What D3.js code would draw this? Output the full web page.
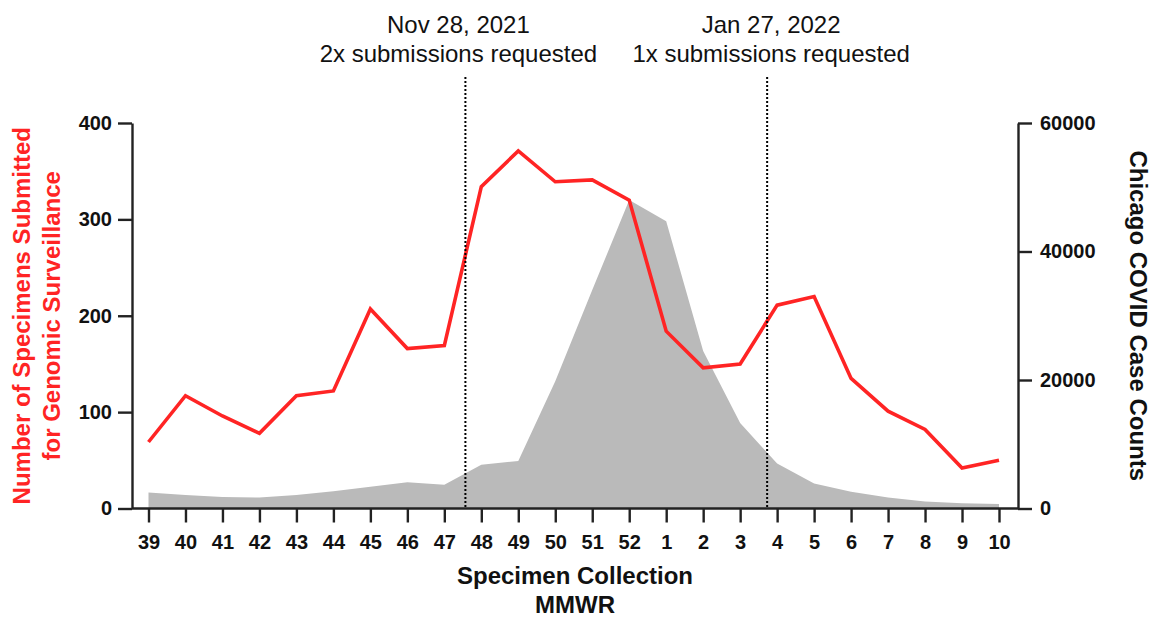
<!DOCTYPE html>
<html>
<head>
<meta charset="utf-8">
<script src="https://cdn.jsdelivr.net/npm/d3@7"></script>
<style>
  body { margin: 0; background: #fff; }
  svg { display: block; font-family: "Liberation Sans", Arial, Helvetica, sans-serif; }
</style>
</head>
<body>
<svg id="chart" width="1153" height="618"></svg>
<script>
// MMWR weeks, Sep 2021 -> Mar 2022
var weeks = ["39","40","41","42","43","44","45","46","47","48","49","50","51","52",
             "1","2","3","4","5","6","7","8","9","10"];
// specimens submitted (left axis)
var specimens = [69,117,96,78,117,122,207,166,169,334,371,339,341,320,
                 184,146,150,211,220,135,101,82,42,50];
// Chicago case counts (right axis)
var cases = [2500,2100,1800,1700,2100,2700,3400,4100,3700,6800,7400,19800,34000,48000,
             44700,24500,13300,7000,3900,2600,1700,1100,800,700];
var leftTicks = [0,100,200,300,400];
var rightTicks = [0,20000,40000,60000];
// policy changes, position in week index units
var markers = [
	{ at: 8.57, lines: ["Nov 28, 2021", "2x submissions requested"] },
	{ at: 16.73, lines: ["Jan 27, 2022", "1x submissions requested"] }
];

var svg = d3.select("#chart");
var plot = { left: 132, right: 1018, top: 123, bottom: 508.5 };

var x = d3.scalePoint().domain(weeks).range([148.5, 999]);
var xi = d3.scaleLinear().domain([0, weeks.length - 1]).range([148.5, 999]);
var yL = d3.scaleLinear().domain([0, 400]).range([plot.bottom, plot.top]);
var yR = d3.scaleLinear().domain([0, 60000]).range([plot.bottom, plot.top]);

// gray area of cases
var area = d3.area()
	.x(function(d, i){ return x(weeks[i]); })
	.y0(yR(0))
	.y1(function(d){ return yR(d); });
svg.append("path").datum(cases)
	.attr("d", area)
	.attr("fill", "#bababa");

// red specimens line
var line = d3.line()
	.x(function(d, i){ return x(weeks[i]); })
	.y(function(d){ return yL(d); });
svg.append("path").datum(specimens)
	.attr("d", line)
	.attr("fill", "none")
	.attr("stroke", "#ff2424")
	.attr("stroke-width", 3.6)
	.attr("stroke-linejoin", "miter");

// dotted marker lines + labels
var labelDx = [-7, 4];
markers.forEach(function(m, k){
	var mx = xi(m.at);
	svg.append("line")
		.attr("x1", mx).attr("x2", mx)
		.attr("y1", 77).attr("y2", plot.bottom)
		.attr("stroke", "#000").attr("stroke-width", 2)
		.style("stroke-dasharray", "2, 2");
	var t = svg.append("text")
		.attr("text-anchor", "middle")
		.attr("font-size", 24)
		.attr("fill", "#111");
	m.lines.forEach(function(s, l){
		t.append("tspan")
			.attr("x", mx + labelDx[k])
			.attr("y", 33 + l * 29)
			.text(s);
	});
});

// axes
function styleAxis(g){
	g.select(".domain").attr("stroke", "#222").attr("stroke-width", 2.4);
	g.selectAll(".tick line").attr("stroke", "#222").attr("stroke-width", 2.4);
	g.selectAll(".tick text")
		.attr("fill", "#111")
		.attr("font-size", 20)
		.attr("font-weight", "bold")
		.attr("font-family", "Liberation Sans, Arial, sans-serif");
}

svg.append("g")
	.attr("transform", "translate(" + plot.left + ",0)")
	.call(d3.axisLeft(yL).tickValues(leftTicks).tickSize(14).tickPadding(6).tickSizeOuter(0))
	.call(styleAxis);

svg.append("g")
	.attr("transform", "translate(" + plot.right + ",0)")
	.call(d3.axisRight(yR).tickValues(rightTicks).tickFormat(d3.format("d"))
		.tickSize(14).tickPadding(8).tickSizeOuter(0))
	.call(styleAxis);

var xAxis = svg.append("g")
	.attr("transform", "translate(0," + plot.bottom + ")")
	.call(d3.axisBottom(x).tickSize(14).tickPadding(12).tickSizeOuter(0))
	.call(styleAxis);
// stretch the baseline between both y axes
xAxis.select(".domain").attr("d", "M" + plot.left + ",0H" + plot.right);

// axis titles
var leftTitle = svg.append("text")
	.attr("transform", "translate(0," + (plot.top + plot.bottom) / 2 + ") rotate(-90)")
	.attr("text-anchor", "middle")
	.attr("font-size", 24)
	.attr("font-weight", "bold")
	.attr("fill", "#ff2424");
leftTitle.append("tspan").attr("x", 0).attr("y", 30).text("Number of Specimens Submitted");
leftTitle.append("tspan").attr("x", 0).attr("y", 60).text("for Genomic Surveillance");

svg.append("text")
	.attr("transform", "translate(1130," + (plot.top + plot.bottom) / 2 + ") rotate(90)")
	.attr("text-anchor", "middle")
	.attr("font-size", 24)
	.attr("font-weight", "bold")
	.attr("fill", "#111")
	.text("Chicago COVID Case Counts");

var xTitle = svg.append("text")
	.attr("text-anchor", "middle")
	.attr("font-size", 24)
	.attr("font-weight", "bold")
	.attr("fill", "#111");
xTitle.append("tspan").attr("x", (plot.left + plot.right) / 2).attr("y", 584).text("Specimen Collection");
xTitle.append("tspan").attr("x", (plot.left + plot.right) / 2).attr("y", 613).text("MMWR");
</script>
</body>
</html>
